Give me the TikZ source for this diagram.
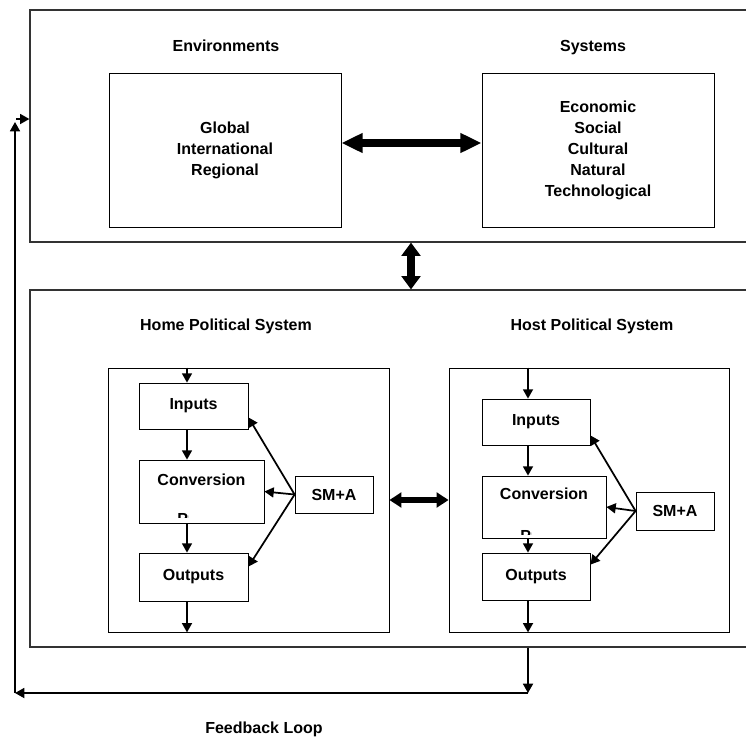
\documentclass[tikz,border=0pt]{standalone}
\usepackage{fontspec}
\setmainfont{Liberation Sans}
\usetikzlibrary{positioning, arrows.meta}
\tikzstyle{box} = [draw, line width=0.6pt, inner sep=0pt, align=center, font=\fontsize{12}{15.75}\selectfont\bfseries]
\tikzstyle{frame} = [draw=black!80, line width=0.9pt, inner sep=0pt]
\tikzstyle{lbl} = [inner sep=0pt, align=center, font=\fontsize{12}{15.75}\selectfont\bfseries]
\tikzstyle{flow} = [line width=1.3pt, -{Triangle[length=7pt, width=7.5pt]}]
\tikzstyle{big} = [line width=6pt, {Triangle[length=10pt, width=14pt]}-{Triangle[length=10pt, width=14pt]}]

\begin{document}
\begin{tikzpicture}[x=0.75pt, y=-0.75pt]

    \useasboundingbox (0,0) rectangle (746,739);
    \clip (0,0) rectangle (746,739);

    % upper part
    \node[frame, minimum width=555pt, minimum height=174pt] (topBox) at (400,126) {};
    \node[lbl, anchor=base] (envLbl) at (226,51) {Environments};
    \node[lbl, anchor=base] (sysLbl) at (593,51) {Systems};
    \node[box, minimum width=174pt, minimum height=115.5pt] (env) at (225,150) {
        Global \\ International \\ Regional
    };
    \node[box, minimum width=174pt, minimum height=115.5pt] (sys) at (598,150) {
        Economic \\ Social \\ Cultural \\ Natural \\ Technological
    };
    \draw[big, {Triangle[length=16pt, width=14pt]}-{Triangle[length=16pt, width=14pt]}] (env.east |- 0,143) -- (sys.west |- 0,143);

    % lower part
    \node[frame, minimum width=555pt, minimum height=267.75pt] (lowBox) at (400,468.5) {};
    \draw[big, line width=6pt] (topBox.south -| 411,0) -- (lowBox.north -| 411,0);
    \node[lbl, anchor=base] (homeLbl) at (226,330) {Home Political System};
    \node[lbl, anchor=base] (hostLbl) at (592,330) {Host Political System};
    \node[box, minimum width=210.75pt, minimum height=198pt] (homeSys) at (248.5,500) {};
    \node[box, minimum width=210pt, minimum height=198pt] (hostSys) at (589,500) {};
    \draw[big, line width=5pt, {Triangle[length=9pt, width=11pt]}-{Triangle[length=9pt, width=11pt]}] (homeSys.east |- 0,500) -- (hostSys.west |- 0,500);

    % home system
    \coordinate (axH) at (187,0);
    \node[box, minimum width=81.75pt, minimum height=34.5pt] (inH) at (193.5,406) {Inputs};
    \node[box, minimum width=93.75pt, minimum height=47.25pt] (convH) at (201.5,491.5) {};
    \node[lbl] at ([yshift=-15pt]convH.north) {Conversion};
    \begin{scope}
        \clip (176,462) rectangle (188.5,517.5);
        \node[lbl, anchor=base west] at (177,524.5) {Process};
    \end{scope}
    \node[box, minimum width=81.75pt, minimum height=36pt] (outH) at (193.5,577) {Outputs};
    \node[box, minimum width=58.5pt, minimum height=27.75pt] (smH) at (334,494.5) {SM+A};
    \draw[flow] (homeSys.north -| axH) -- (inH.north -| axH);
    \draw[flow] (inH.south -| axH) -- (convH.north -| axH);
    \draw[flow] (convH.south -| axH) -- (outH.north -| axH);
    \draw[flow] (outH.south -| axH) -- (homeSys.south -| axH);
    \draw[flow] (smH.west) -- ([yshift=9pt]inH.south east);
    \draw[flow] (smH.west) -- (convH.east);
    \draw[flow] (smH.west) -- ([yshift=-10.5pt]outH.north east);

    % host system
    \coordinate (axT) at (528,0);
    \node[box, minimum width=81pt, minimum height=34.5pt] (inT) at (536,422) {Inputs};
    \node[box, minimum width=93pt, minimum height=46.5pt] (convT) at (544,507) {};
    \node[lbl] at ([yshift=-14pt]convT.north) {Conversion};
    \begin{scope}
        \clip (519,478) rectangle (531.5,534.5);
        \node[lbl, anchor=base west] at (520,541.5) {Process};
    \end{scope}
    \node[box, minimum width=81pt, minimum height=35.25pt] (outT) at (536,576.5) {Outputs};
    \node[box, minimum width=58.5pt, minimum height=28.5pt] (smT) at (675,511) {SM+A};
    \draw[flow] (hostSys.north -| axT) -- (inT.north -| axT);
    \draw[flow] (inT.south -| axT) -- (convT.north -| axT);
    \draw[flow] (convT.south -| axT) -- (outT.north -| axT);
    \draw[flow] (outT.south -| axT) -- (hostSys.south -| axT);
    \draw[flow] (smT.west) -- ([yshift=7.5pt]inT.south east);
    \draw[flow] (smT.west) -- (convT.east);
    \draw[flow] (smT.west) -- ([yshift=-9pt]outT.north east);

    % feedback loop
    \coordinate (fbR) at (528,693);
    \coordinate (fbL) at (15,693);
    \coordinate (fbT) at (15,122);
    \draw[flow] (lowBox.south -| axT) -- (fbR);
    \draw[flow] (fbR) -- (fbL);
    \draw[flow] (fbL) -- (fbT);
    \draw[flow] ([xshift=1pt]fbT |- 0,119) -- (topBox.west |- 0,119);
    \node[lbl, anchor=base] (fbLbl) at (264,733) {Feedback Loop};

\end{tikzpicture}
\end{document}
